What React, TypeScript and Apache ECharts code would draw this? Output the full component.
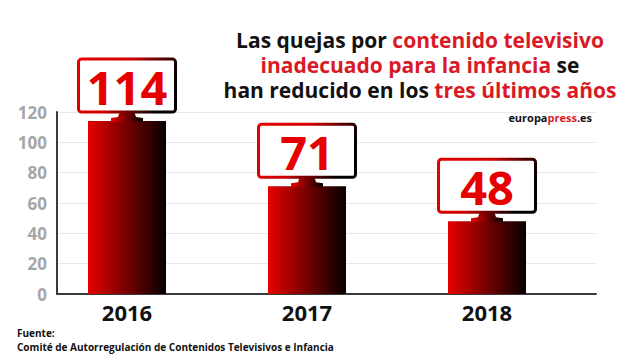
import React, { useEffect, useRef } from "react";
import * as echarts from "echarts";

const years = ["2016", "2017", "2018"];
const complaints = [114, 71, 48];
const yTicks = { min: 0, max: 120, interval: 20 };
const titleLines = [
  [["b", "Las quejas por "], ["r", "contenido televisivo"]],
  [["r", "inadecuado para la infancia"], ["b", " se"]],
  [["b", "han reducido en los "], ["r", "tres últimos años"]],
];
const sourceLines = ["Fuente:", "Comité de Autorregulación de Contenidos Televisivos e Infancia"];

const FONT = "'Open Sans', 'Noto Sans', sans-serif";
const RED = "#e60000";
const TITLE_RED = "#d91a26";

function redBlack(x2 = 1, y2 = 0, mid = 0) {
  const stops = [{ offset: 0, color: RED }];
  if (mid > 0) stops.push({ offset: mid, color: "#d00000" });
  stops.push({ offset: 1, color: "#050000" });
  return new echarts.graphic.LinearGradient(0, 0, x2, y2, stops);
}

export default function App() {
  const ref = useRef<HTMLDivElement>(null);
  useEffect(() => {
    if (!ref.current) return;
    const chart = echarts.init(ref.current, null, { renderer: "svg" });
    const gridTop = 112;
    const gridBottom = 70;

    const titleText = titleLines
      .map((line) => line.map(([k, t]) => `{${k}|${t}}`).join(""))
      .join("\n");

    chart.setOption({
      animation: false,
      backgroundColor: "#ffffff",
      grid: [
        { left: 57, right: 44, top: gridTop, bottom: gridBottom },
        { left: 37, right: 63, top: gridTop, bottom: gridBottom },
      ],
      xAxis: [
        {
          type: "category",
          gridIndex: 0,
          data: years,
          axisLabel: { show: false },
          axisTick: { show: false },
          axisLine: { show: true, lineStyle: { color: "#3a3a3a", width: 2 } },
        },
        {
          type: "category",
          gridIndex: 1,
          data: years,
          axisLine: { show: false },
          axisTick: { show: false },
          axisLabel: {
            margin: 7,
            color: "#111",
            fontFamily: FONT,
            fontWeight: "bold",
            fontSize: 22,
          },
        },
      ],
      yAxis: [
        {
          type: "value",
          gridIndex: 0,
          ...yTicks,
          axisLine: { show: true, lineStyle: { color: "#3a3a3a", width: 2 } },
          axisTick: { show: false },
          splitLine: { lineStyle: { color: "#e8e8e8", width: 1 } },
          axisLabel: {
            margin: 10,
            color: "#a6a6a6",
            fontFamily: FONT,
            fontWeight: "bold",
            fontSize: 17,
          },
        },
        {
          type: "value",
          gridIndex: 1,
          ...yTicks,
          show: false,
          splitLine: { show: false },
        },
      ],
      series: [
        {
          type: "bar",
          xAxisIndex: 1,
          yAxisIndex: 1,
          data: complaints,
          barWidth: 78,
          itemStyle: { color: redBlack(1, 0) },
        },
        {
          type: "custom",
          xAxisIndex: 1,
          yAxisIndex: 1,
          data: complaints.map((v, i) => [i, v]),
          z: 5,
          renderItem: (params: any, api: any) => {
            const p = api.coord([api.value(0), api.value(1)]);
            const cx = p[0];
            const ty = p[1];
            const boxW = 97;
            const boxH = 53;
            const boxBottom = ty - 9;
            return {
              type: "group",
              children: [
                {
                  type: "polygon",
                  shape: {
                    points: [
                      [cx - 7, boxBottom - 1],
                      [cx + 7, boxBottom - 1],
                      [cx + 9, ty - 4],
                      [cx + 16, ty - 3],
                      [cx + 16, ty + 1],
                      [cx - 16, ty + 1],
                      [cx - 16, ty - 3],
                      [cx - 9, ty - 4],
                    ],
                  },
                  style: { fill: redBlack(1, 0) },
                },
                {
                  type: "rect",
                  shape: {
                    x: cx - boxW / 2,
                    y: boxBottom - boxH,
                    width: boxW,
                    height: boxH,
                    r: 3,
                  },
                  style: {
                    fill: "#ffffff",
                    stroke: redBlack(1, 0.3, 0.5),
                    lineWidth: 3,
                  },
                },
                {
                  type: "text",
                  x: cx,
                  y: boxBottom - boxH / 2 + 1,
                  style: {
                    text: String(api.value(1)),
                    align: "center",
                    verticalAlign: "middle",
                    fontFamily: FONT,
                    fontWeight: "bold",
                    fontSize: 47,
                    fill: RED,
                  },
                },
              ],
            };
          },
        },
      ],
      graphic: [
        {
          type: "text",
          x: 420,
          y: 65,
          style: {
            text: titleText,
            align: "center",
            verticalAlign: "middle",
            rich: {
              b: { fontFamily: FONT, fontWeight: "bold", fontSize: 21, lineHeight: 25, fill: "#111", align: "center" },
              r: { fontFamily: FONT, fontWeight: "bold", fontSize: 21, lineHeight: 25, fill: TITLE_RED, align: "center" },
            },
          },
        },
        {
          type: "text",
          x: 592,
          y: 117,
          style: {
            text: "{b|europa}{r|press}{b|.es}",
            align: "right",
            verticalAlign: "middle",
            rich: {
              b: { fontFamily: FONT, fontWeight: "bold", fontSize: 11, fill: "#111" },
              r: { fontFamily: FONT, fontWeight: "bold", fontSize: 11, fill: TITLE_RED },
            },
          },
        },
        ...sourceLines.map((t, i) => ({
          type: "text",
          x: 17,
          y: 333 + i * 14,
          style: {
            text: t,
            align: "left",
            verticalAlign: "middle",
            fontFamily: FONT,
            fontWeight: "bold",
            fontSize: 10,
            fill: "#111",
          },
        })),
      ],
    });
    return () => chart.dispose();
  }, []);
  return (
    <div
      ref={ref}
      style={{ position: "fixed", left: 0, top: 0, width: 640, height: 364 }}
    />
  );
}
